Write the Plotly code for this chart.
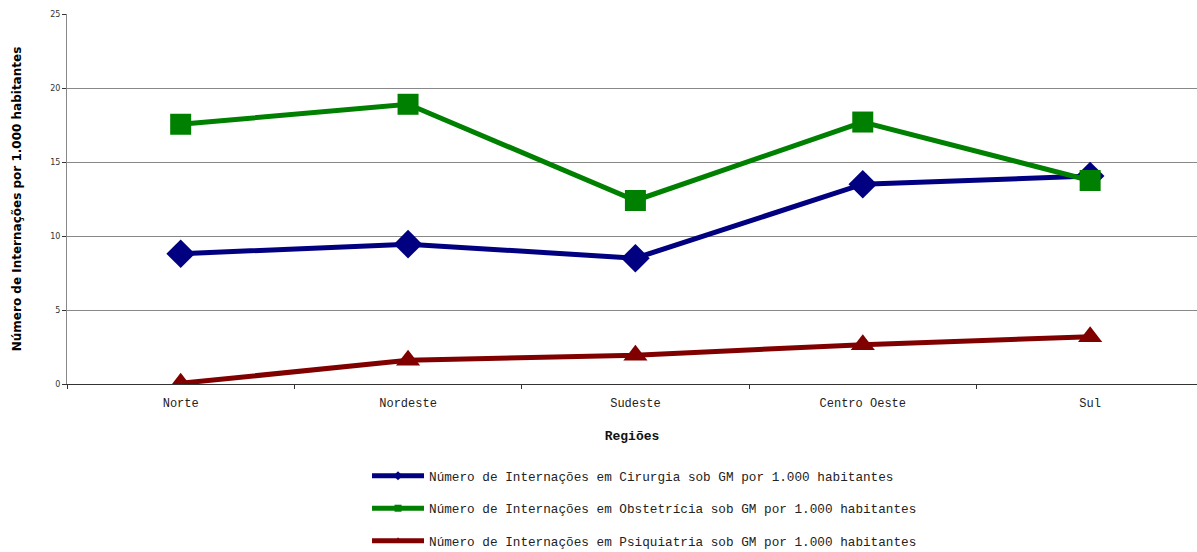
import plotly.graph_objects as go

regioes = ["Norte", "Nordeste", "Sudeste", "Centro Oeste", "Sul"]
cirurgia = [8.8, 9.45, 8.5, 13.5, 14.05]
obstetricia = [17.55, 18.9, 12.4, 17.7, 13.75]
psiquiatria = [0.05, 1.6, 1.95, 2.65, 3.2]

nomes = [
    "Número de Internações em Cirurgia sob GM por 1.000 habitantes",
    "Número de Internações em Obstetrícia sob GM por 1.000 habitantes",
    "Número de Internações em Psiquiatria sob GM por 1.000 habitantes",
]
series = [cirurgia, obstetricia, psiquiatria]
cores = ["#000080", "#008000", "#800000"]
simbolos = ["diamond", "square", "triangle-up"]
tamanhos = [22, 21, 21]

fig = go.Figure()
for i, (nome, vals, cor, simb, tam) in enumerate(zip(nomes, series, cores, simbolos, tamanhos)):
    fig.add_trace(go.Scatter(
        x=regioes, y=vals, name=nome, mode="lines+markers",
        line=dict(color=cor, width=5),
        marker=dict(symbol=simb, size=tam, color=cor),
        showlegend=False,
    ))
    # legend entry with a small marker on the line
    fig.add_trace(go.Scatter(
        x=[None], y=[None], name=nome, mode="lines+markers",
        line=dict(color=cor, width=5),
        marker=dict(symbol=simb, size=7, color=cor),
        legendgroup=f"g{i}",
    ))

mono = "Liberation Mono"
fig.update_layout(
    width=1197, height=552,
    margin=dict(l=67, r=0, t=14, b=168, autoexpand=False),
    paper_bgcolor="white", plot_bgcolor="white",
    showlegend=True,
    legend=dict(
        orientation="v", x=0.2655, xanchor="left", y=-0.208, yanchor="top",
        font=dict(family=mono, size=12.7, color="#222"),
        itemwidth=52, tracegroupgap=13,
        bgcolor="rgba(0,0,0,0)",
    ),
    xaxis=dict(
        type="category", range=[-0.5, 4.47],
        showline=True, linecolor="#333", linewidth=1,
        ticks="outside", tickson="boundaries", ticklen=4, tickcolor="#333",
        showgrid=False, ticklabelstandoff=8,
        tickfont=dict(family=mono, size=12, color="#222"),
        title=dict(text="<b>Regiões</b>", font=dict(family=mono, size=13, color="#111"), standoff=20),
    ),
    yaxis=dict(
        range=[0, 25], dtick=5,
        showline=True, linecolor="#888", linewidth=1,
        ticks="outside", ticklen=4, tickcolor="#333",
        showgrid=True, gridcolor="#888", gridwidth=1,
        zeroline=False,
        tickfont=dict(family="DejaVu Sans", size=8, color="#333"),
        title=dict(text="<b>Número de Internações por 1.000 habitantes</b>",
                   font=dict(family="DejaVu Sans", size=12, color="#000"), standoff=26),
    ),
)

fig.write_html("out.html")
